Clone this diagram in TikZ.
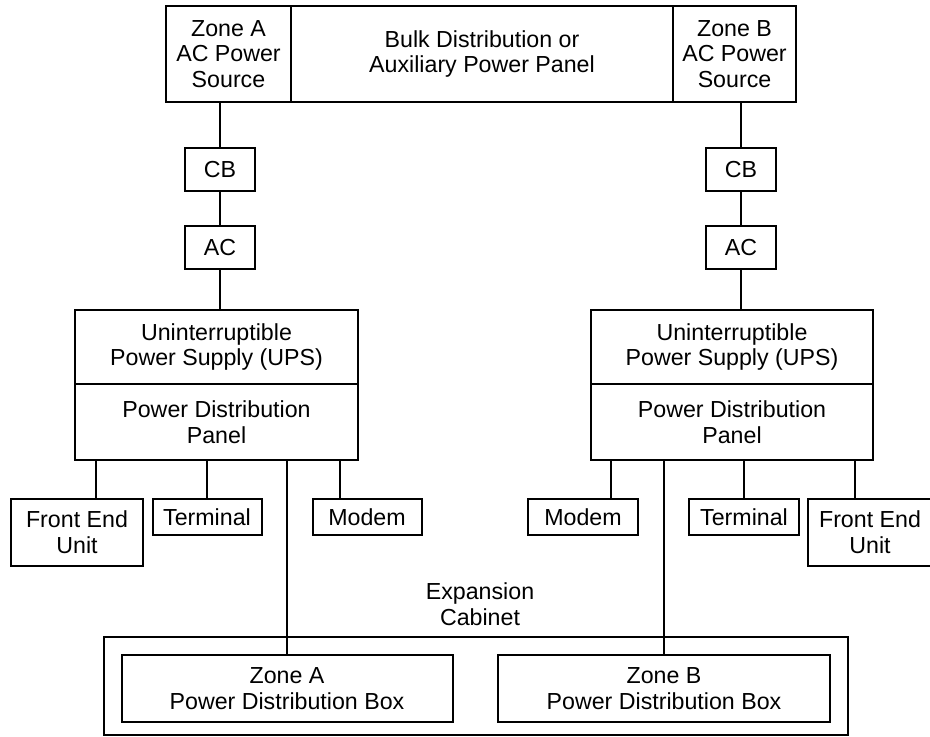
\documentclass[tikz,border=0pt]{standalone}
\usepackage{fontspec}
\setmainfont{Liberation Sans}
\begin{document}
\begin{tikzpicture}[x=0.5pt, y=-0.5pt, line width=1pt,
    box/.style 2 args={draw, align=center, inner sep=0pt,
        minimum width=#1*0.5pt, minimum height=#2*0.5pt,
        font=\fontsize{11.6}{12.85}\selectfont}]

\useasboundingbox (0,0) rectangle (930,736);

% Top panel:
\node[box={125}{96}] (srcA) at (228.5,54) {Zone A\\AC Power\\Source};
\node[box={382}{96}] (bulk) at (482,54) {Bulk Distribution or\\Auxiliary Power Panel};
\node[box={123}{96}] (srcB) at (734.5,54) {Zone B\\AC Power\\Source};

% Zone A side:
\node[box={70}{43}] (cbA) at (220,169.5) {CB};
\node[box={70}{43}] (acA) at (220,247.5) {AC};
\node[box={283}{74}] (upsA) at (216.5,347) {Uninterruptible\\Power Supply (UPS)};
\node[box={283}{76}] (pdpA) at (216.5,422) {Power Distribution\\Panel};
\node[box={132}{67}] (feA) at (77,532.5) {Front End\\Unit};
\node[box={109}{36}] (termA) at (207,517) {Terminal};
\node[box={109}{36}] (modemA) at (367,517) {Modem};

% Zone B side:
\node[box={70}{43}] (cbB) at (741,169.5) {CB};
\node[box={70}{43}] (acB) at (741,247.5) {AC};
\node[box={282}{74}] (upsB) at (732,347) {Uninterruptible\\Power Supply (UPS)};
\node[box={282}{76}] (pdpB) at (732,422) {Power Distribution\\Panel};
\node[box={110}{36}] (modemB) at (583,517) {Modem};
\node[box={110}{36}] (termB) at (744,517) {Terminal};
\node[box={124}{67}] (feB) at (870,532.5) {Front End\\Unit};

% Expansion cabinet:
\node[box={744}{98}] (cab) at (476,686) {};
\node[align=center, font=\fontsize{11.6}{12.85}\selectfont] (cablabel) at (480,604) {Expansion\\Cabinet};
\node[box={331}{67}] (pdbA) at (287,688.5) {Zone A\\Power Distribution Box};
\node[box={332}{67}] (pdbB) at (664,688.5) {Zone B\\Power Distribution Box};

% Feed lines:
\draw (cbA.north) -- (cbA.north |- srcA.south);
\draw (cbA.south) -- (acA.north);
\draw (acA.south) -- (acA.south |- upsA.north);
\draw (cbB.north) -- (cbB.north |- srcB.south);
\draw (cbB.south) -- (acB.north);
\draw (acB.south) -- (acB.south |- upsB.north);

% Branches:
\draw ([xshift=9.5pt]feA.north) -- ([xshift=9.5pt]feA.north |- pdpA.south);
\draw (termA.north) -- (termA.north |- pdpA.south);
\draw ([xshift=-13.5pt]modemA.north) -- ([xshift=-13.5pt]modemA.north |- pdpA.south);
\draw (pdbA.north) -- (pdbA.north |- pdpA.south);
\draw ([xshift=14pt]modemB.north) -- ([xshift=14pt]modemB.north |- pdpB.south);
\draw (termB.north) -- (termB.north |- pdpB.south);
\draw ([xshift=-7.5pt]feB.north) -- ([xshift=-7.5pt]feB.north |- pdpB.south);
\draw (pdbB.north) -- (pdbB.north |- pdpB.south);

\end{tikzpicture}
\end{document}
